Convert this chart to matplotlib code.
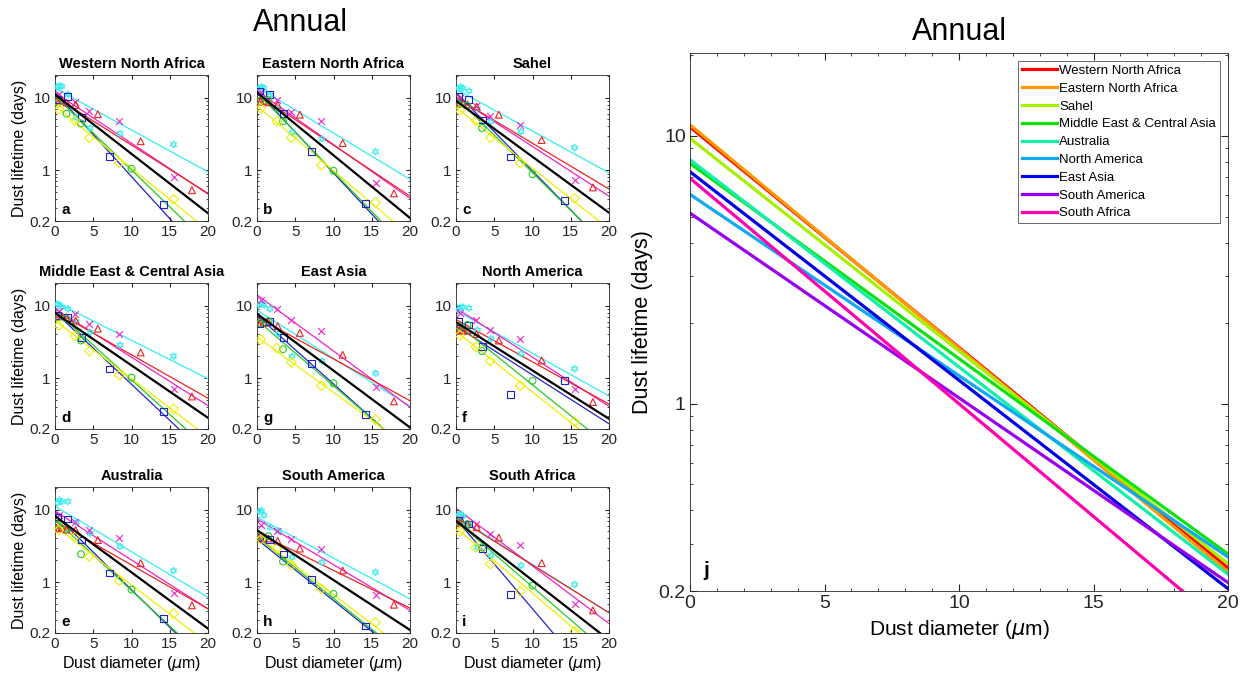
import numpy as np
import matplotlib
matplotlib.use('Agg')
import matplotlib.pyplot as plt
from matplotlib.ticker import NullFormatter, LogLocator, MultipleLocator

plt.rcParams['font.family'] = ['Liberation Sans', 'DejaVu Sans']
plt.rcParams['mathtext.fontset'] = 'dejavusans'

# panel order as drawn: a b c / d g f / e h i
panel_names = ['Western North Africa', 'Eastern North Africa', 'Sahel',
               'Middle East & Central Asia', 'East Asia', 'North America',
               'Australia', 'South America', 'South Africa']
panel_letters = ['a', 'b', 'c', 'd', 'g', 'f', 'e', 'h', 'i']

# diameters (um) of each data set
cyan_x = [0.3, 0.6, 0.9, 1.7, 2.8, 4.6, 8.5, 15.5]
magenta_x = [0.5, 2.6, 4.5, 8.4, 15.5]
red_x = [0.2, 0.5, 0.9, 1.5, 2.7, 5.6, 11.2, 17.9]
blue_x = [0.3, 1.6, 3.5, 7.1, 14.2]
green_x = [0.4, 1.5, 3.4, 10.0]
yellow_x = [0.5, 2.6, 4.5, 8.4, 15.5]

# lifetimes (days), one row per panel
cyan_y = [[14.0, 14.5, 14.2, 11.0, 5.3, 3.8, 3.2, 2.26],
          [13.5, 14.0, 13.5, 10.8, 7.0, 3.3, 2.7, 1.8],
          [13.4, 14.0, 13.4, 12.3, 7.0, 4.7, 3.4, 2.04],
          [10.5, 10.2, 9.5, 9.0, 6.0, 4.3, 2.85, 2.0],
          [10.2, 10.6, 10.2, 9.0, 4.1, 2.0, 1.72, 1.17],
          [8.7, 9.5, 9.5, 9.2, 4.6, 3.5, 2.17, 1.35],
          [12.3, 13.4, 12.9, 12.9, 6.7, 4.7, 3.1, 1.44],
          [9.4, 9.7, 8.3, 5.7, 5.1, 2.2, 1.88, 1.37],
          [8.3, 8.7, 8.1, 6.0, 3.0, 2.33, 1.7, 0.93]]
magenta_y = [[11, 8.8, 6.6, 4.8, 0.81],
             [12, 9.2, 6.4, 4.7, 0.67],
             [10, 7.7, 5.6, 4.2, 0.73],
             [8.5, 7.7, 5.5, 4.1, 0.71],
             [12, 9.0, 6.4, 4.4, 0.75],
             [8.0, 6.4, 4.6, 3.5, 0.71],
             [8.5, 6.8, 5.3, 4.0, 0.72],
             [6.2, 5.1, 3.9, 2.9, 0.66],
             [7.4, 6.3, 4.6, 3.2, 0.5]]
red_y = [[9.2, 9.0, 9.2, 8.5, 7.9, 5.9, 2.5, 0.53],
         [8.8, 8.9, 9.0, 8.6, 7.9, 5.8, 2.36, 0.48],
         [8.3, 8.5, 8.5, 8.0, 7.5, 5.8, 2.6, 0.58],
         [7.1, 7.2, 7.1, 6.9, 6.2, 4.8, 2.26, 0.56],
         [5.7, 5.8, 5.8, 5.9, 5.2, 4.2, 2.1, 0.48],
         [4.6, 4.6, 4.5, 4.5, 4.06, 3.3, 1.76, 0.47],
         [5.6, 5.5, 5.6, 5.3, 5.2, 3.8, 1.83, 0.48],
         [4.0, 4.1, 4.0, 4.0, 3.7, 2.9, 1.45, 0.49],
         [6.5, 6.5, 6.5, 6.3, 5.7, 4.1, 1.83, 0.41]]
blue_y = [[9.5, 10.2, 5.3, 1.55, 0.34],
          [12.3, 10.9, 6.0, 1.83, 0.35],
          [10.2, 9.5, 4.9, 1.52, 0.38],
          [7.3, 6.9, 3.6, 1.34, 0.35],
          [5.6, 6.0, 3.6, 1.6, 0.32],
          [6.0, 5.4, 2.7, 0.59, 0.92],
          [7.9, 7.4, 3.8, 1.34, 0.32],
          [4.1, 3.9, 2.45, 1.09, 0.25],
          [7.1, 6.3, 2.93, 0.67, 0.15]]
green_y = [[8.5, 6.0, 4.4, 1.05],
           [9.0, 9.2, 4.7, 0.98],
           [8.1, 7.7, 3.8, 0.88],
           [6.9, 6.6, 3.3, 1.02],
           [5.7, 6.1, 2.5, 0.85],
           [5.2, 5.4, 2.36, 0.92],
           [6.2, 5.4, 2.43, 0.79],
           [4.3, 4.3, 1.93, 0.69],
           [6.7, 6.3, 3.0, 0.9]]
yellow_y = [[6.9, 4.8, 2.8, 1.26, 0.4],
            [7.1, 4.7, 2.8, 1.17, 0.36],
            [6.7, 4.8, 2.8, 1.26, 0.41],
            [5.3, 3.8, 2.36, 1.1, 0.38],
            [3.4, 2.6, 1.65, 0.79, 0.27],
            [3.9, 2.7, 1.72, 0.79, 0.25],
            [5.2, 4.2, 2.26, 1.05, 0.37],
            [3.9, 2.9, 1.73, 0.81, 0.28],
            [5.0, 3.0, 1.78, 0.75, 0.21]]

# fitted lines: lifetime at d=0 and d=20 um
cyan_fit = [(13.4, 0.95), (14, 0.75), (13, 0.92), (11.3, 0.98), (8.6, 0.41),
            (8.5, 0.57), (11.1, 0.62), (7.8, 0.59), (8.1, 0.38)]
magenta_fit = [(11.7, 0.47), (12.3, 0.41), (10.2, 0.44), (9, 0.42), (14, 0.40),
               (9.2, 0.41), (9.5, 0.43), (7.4, 0.41), (10.4, 0.27)]
red_fit = [(10.2, 0.48), (11.1, 0.44), (10, 0.55), (8.3, 0.53), (6.9, 0.49),
           (6.4, 0.44), (6.9, 0.43), (4.8, 0.44), (7.8, 0.38)]
blue_fit = [(11.7, 0.057), (12.3, 0.068), (11.7, 0.082), (8.1, 0.084), (7.3, 0.095),
            (5.2, 0.236), (8.5, 0.073), (3.9, 0.08), (7.4, 0.025)]
green_fit = [(10.5, 0.097), (11.7, 0.077), (10, 0.085), (8.5, 0.106), (6.3, 0.098),
             (5.7, 0.115), (7.3, 0.081), (4.2, 0.085), (7.0, 0.106)]
yellow_fit = [(7.7, 0.148), (7.7, 0.125), (7.3, 0.155), (6.2, 0.155), (3.7, 0.11),
              (4.4, 0.095), (5.9, 0.143), (4.3, 0.106), (5.6, 0.089)]
black_fit = [(11, 0.256), (11.7, 0.22), (9, 0.26), (7.9, 0.285), (7.7, 0.21),
             (5.9, 0.276), (8.1, 0.23), (5.2, 0.22), (7.0, 0.16)]

# summary panel j
regions = ['Western North Africa', 'Eastern North Africa', 'Sahel',
           'Middle East & Central Asia', 'Australia', 'North America',
           'East Asia', 'South America', 'South Africa']
region_y0 = [10.8, 11.0, 9.8, 7.9, 8.15, 6.05, 7.35, 5.15, 6.95]
region_y20 = [0.244, 0.236, 0.253, 0.275, 0.231, 0.268, 0.204, 0.215, 0.144]
region_colors = ['#ff0000', '#ff9900', '#a6f000', '#10e010', '#10f0a8',
                 '#10a8f0', '#0000e6', '#9a00f0', '#ff00b0']

series = [
    (cyan_x, cyan_y, cyan_fit, '#33eeee', (6, 1, 0)),
    (magenta_x, magenta_y, magenta_fit, '#ee22cc', 'x'),
    (red_x, red_y, red_fit, '#ee2222', '^'),
    (blue_x, blue_y, blue_fit, '#2222cc', 's'),
    (green_x, green_y, green_fit, '#22cc22', 'o'),
    (yellow_x, yellow_y, yellow_fit, '#eeee00', 'D'),
]

fig = plt.figure(figsize=(12.48, 6.81), dpi=100)

lefts = [55, 257, 456]
bottoms = [221, 429, 633]
W, H = 1248.0, 681.0


def style_log(ax, fs):
    ax.set_yscale('log')
    ax.set_ylim(0.2, 20.4)
    ax.set_xlim(0, 20)
    ax.set_yticks([0.2, 1, 10])
    ax.set_yticklabels(['0.2', '1', '10'])
    ax.yaxis.set_minor_locator(LogLocator(base=10, subs=np.arange(2, 10)))
    ax.yaxis.set_minor_formatter(NullFormatter())
    ax.set_xticks([0, 5, 10, 15, 20])
    ax.tick_params(which='both', direction='in', top=True, right=True,
                   labelsize=fs, colors='#262626', pad=3)
    ax.tick_params(which='major', length=3)
    ax.tick_params(which='minor', length=1.5)
    for s in ax.spines.values():
        s.set_color('#262626')
        s.set_linewidth(0.6)


for k in range(9):
    r, c = divmod(k, 3)
    ax = fig.add_axes([lefts[c] / W, 1 - bottoms[r] / H, 153 / W, 146 / H])
    style_log(ax, 11)
    for xs, ys, fit, col, mk in series:
        ax.plot([0, 20], fit[k], color=col, lw=0.9)
        ax.scatter(xs, ys[k], marker=mk, s=24, linewidths=0.8,
                   facecolors='none' if mk != 'x' else col, edgecolors=col,
                   zorder=3)
    ax.plot([0, 20], black_fit[k], color='black', lw=1.6, zorder=4)
    ax.set_title(panel_names[k], fontsize=10.5, fontweight='bold', pad=5)
    ax.text(0.04, 0.03, panel_letters[k], transform=ax.transAxes,
            fontsize=11, fontweight='bold', va='bottom')
    if c == 0:
        ax.set_ylabel('Dust lifetime (days)', fontsize=11.5, labelpad=2)
    if r == 2:
        ax.set_xlabel(r'Dust diameter ($\mu$m)', fontsize=11.5, labelpad=2)

fig.text(300 / W, 1 - 23 / H, 'Annual', ha='center', va='center', fontsize=22)

axj = fig.add_axes([690 / W, 1 - 591 / H, 538 / W, 538 / H])
style_log(axj, 14)
axj.xaxis.set_minor_locator(MultipleLocator(1))
axj.tick_params(which='major', length=5)
axj.tick_params(which='minor', length=2.5)
for name, y0, y20, col in zip(regions, region_y0, region_y20, region_colors):
    axj.plot([0, 20], [y0, y20], color=col, lw=2.3, label=name)
axj.set_xlabel(r'Dust diameter ($\mu$m)', fontsize=15)
axj.set_ylabel('Dust lifetime (days)', fontsize=15.5)
axj.set_title('Annual', fontsize=22, pad=9)
axj.text(0.025, 0.02, 'j', transform=axj.transAxes, fontsize=15,
         fontweight='bold', va='bottom')
leg = axj.legend(loc='upper right', fontsize=9.5, frameon=True, fancybox=False,
                 borderaxespad=0.6, handlelength=2.6, handletextpad=0.2,
                 labelspacing=0.42, borderpad=0.3)
leg.get_frame().set_edgecolor('#262626')
leg.get_frame().set_linewidth(0.6)

fig.savefig('out.png', dpi=100)
